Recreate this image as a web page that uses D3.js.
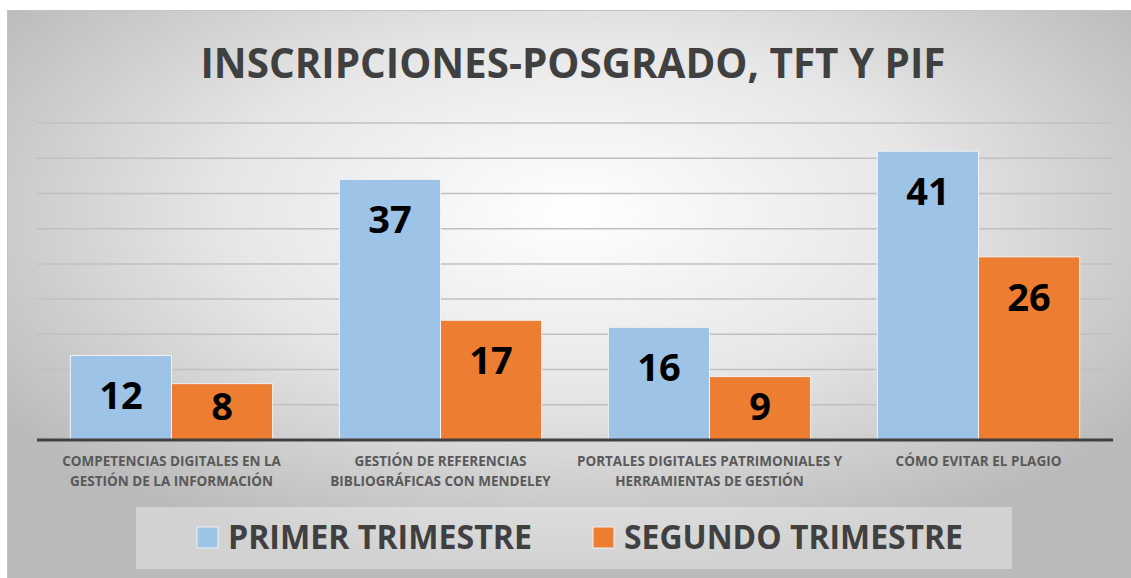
<!DOCTYPE html>
<html>
<head>
<meta charset="utf-8">
<script src="https://cdn.jsdelivr.net/npm/d3@7"></script>
<style>
  body { margin: 0; background: #fff; }
  svg { display: block; }
  text { font-family: "Open Sans", "DejaVu Sans", sans-serif; }
</style>
</head>
<body>
<svg></svg>
<script>
var width = 1131,
    height = 578;

// Chart data
var categories = [
    ['COMPETENCIAS DIGITALES EN LA', 'GESTIÓN DE LA INFORMACIÓN'],
    ['GESTIÓN DE REFERENCIAS', 'BIBLIOGRÁFICAS CON MENDELEY'],
    ['PORTALES DIGITALES PATRIMONIALES Y', 'HERRAMIENTAS DE GESTIÓN'],
    ['CÓMO EVITAR EL PLAGIO']
];
var seriesNames = ['PRIMER TRIMESTRE', 'SEGUNDO TRIMESTRE'];
var primerTrimestre = [12, 37, 16, 41];
var segundoTrimestre = [8, 17, 9, 26];
var colors = ['#9DC3E6', '#ED7D31'];
var gridTicks = [5, 10, 15, 20, 25, 30, 35, 40, 45];

var svg = d3.select('svg')
    .attr('width', width)
    .attr('height', height);

var defs = svg.append('defs');
var grad = defs.append('radialGradient')
    .attr('id', 'bg')
    .attr('cx', '50%').attr('cy', '35%')
    .attr('r', '62%');
grad.append('stop').attr('offset', '0%').attr('stop-color', '#ffffff');
grad.append('stop').attr('offset', '50%').attr('stop-color', '#e6e6e6');
grad.append('stop').attr('offset', '100%').attr('stop-color', '#bababa');

// Chart background
svg.append('rect')
    .attr('x', 7.5)
    .attr('y', 10.5)
    .attr('width', width)
    .attr('height', height)
    .attr('fill', 'url(#bg)')
    .attr('stroke', '#c4c4c4')
    .attr('stroke-width', 1);

// Title
svg.append('text')
    .attr('x', 573)
    .attr('y', 78)
    .attr('text-anchor', 'middle')
    .attr('textLength', 745)
    .attr('lengthAdjust', 'spacingAndGlyphs')
    .style('font-size', '41px')
    .style('font-weight', 'bold')
    .style('fill', '#404040')
    .text('INSCRIPCIONES-POSGRADO, TFT Y PIF');

var plotLeft = 37,
    plotRight = 1113,
    baseline = 440;

var x0 = d3.scaleBand()
    .domain(d3.range(categories.length))
    .range([plotLeft, plotRight]);

var x1 = d3.scaleBand()
    .domain(d3.range(seriesNames.length))
    .range([0, x0.bandwidth()])
    .paddingInner(0)
    .paddingOuter(0.33);

var y = d3.scaleLinear()
    .domain([0, 45])
    .range([baseline, 123]);

// Gridlines
svg.append('g')
    .selectAll('line')
    .data(gridTicks)
    .enter().append('line')
    .attr('x1', plotLeft)
    .attr('x2', plotRight)
    .attr('y1', function (d) { return y(d); })
    .attr('y2', function (d) { return y(d); })
    .attr('stroke', '#c0c0c0')
    .attr('stroke-width', 1.5);

// Bars + data labels (inside end)
var series = [primerTrimestre, segundoTrimestre];
var groups = svg.append('g')
    .selectAll('g')
    .data(categories)
    .enter().append('g')
    .attr('transform', function (d, i) { return 'translate(' + x0(i) + ',0)'; });

groups.each(function (cat, i) {
    var g = d3.select(this);
    series.forEach(function (vals, s) {
        g.append('rect')
            .attr('x', x1(s))
            .attr('y', y(vals[i]))
            .attr('width', x1.bandwidth())
            .attr('height', baseline - y(vals[i]))
            .attr('fill', colors[s])
            .attr('stroke', '#f2f2f2')
            .attr('stroke-width', 1);
        var cy = Math.min(y(vals[i]) + 40, baseline - 34);
        g.append('text')
            .attr('x', x1(s) + x1.bandwidth() / 2)
            .attr('y', cy + 14)
            .attr('text-anchor', 'middle')
            .style('font-size', '38px')
            .style('font-weight', 'bold')
            .style('fill', '#000')
            .text(vals[i]);
    });
});

// Baseline
svg.append('line')
    .attr('x1', plotLeft)
    .attr('x2', plotRight)
    .attr('y1', baseline)
    .attr('y2', baseline)
    .attr('stroke', '#404040')
    .attr('stroke-width', 3);

// Category labels
var catLabels = svg.append('g')
    .selectAll('text')
    .data(categories)
    .enter().append('text')
    .attr('text-anchor', 'middle')
    .style('font-size', '13.5px')
    .style('font-weight', 'bold')
    .style('fill', '#595959');

catLabels.each(function (lines, i) {
    var t = d3.select(this);
    lines.forEach(function (line, j) {
        t.append('tspan')
            .attr('x', x0(i) + x0.bandwidth() / 2)
            .attr('y', 466 + j * 20)
            .text(line);
    });
});

// Legend
svg.append('rect')
    .attr('x', 136)
    .attr('y', 507)
    .attr('width', 876)
    .attr('height', 62)
    .attr('fill', '#ffffff')
    .attr('fill-opacity', 0.35);

var legendX = [197, 593];
var legend = svg.append('g')
    .selectAll('g')
    .data(seriesNames)
    .enter().append('g')
    .attr('transform', function (d, i) { return 'translate(' + legendX[i] + ',527)'; });

legend.append('rect')
    .attr('width', 21)
    .attr('height', 21)
    .attr('fill', function (d, i) { return colors[i]; })
    .attr('stroke', '#f2f2f2')
    .attr('stroke-width', 1);

legend.append('text')
    .attr('x', 31)
    .attr('y', 22)
    .attr('textLength', function (d, i) { return i === 0 ? 304 : 339; })
    .attr('lengthAdjust', 'spacingAndGlyphs')
    .style('font-size', '34px')
    .style('font-weight', 'bold')
    .style('fill', '#404040')
    .text(function (d) { return d; });
</script>
</body>
</html>
